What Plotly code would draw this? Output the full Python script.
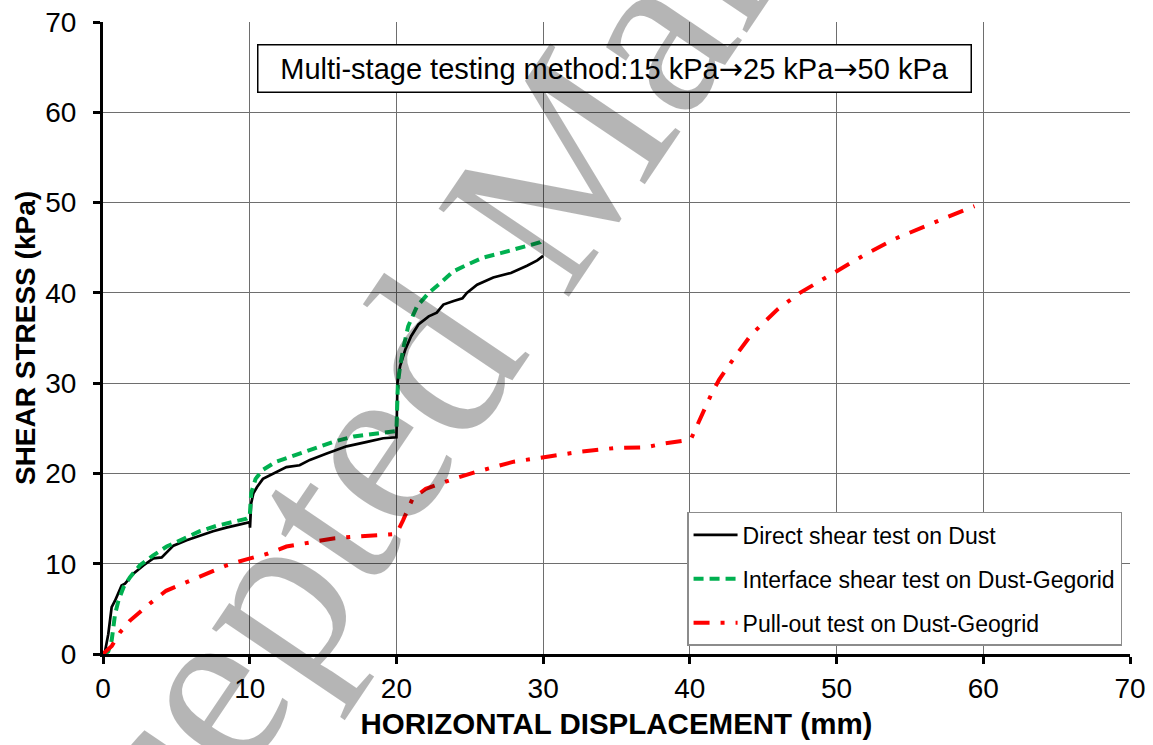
import plotly.graph_objects as go

# Direct shear test on dust (multi-stage: 15 -> 25 -> 50 kPa)
ds_x = [0.0, 0.14, 0.36, 0.48, 0.59, 0.82, 1.05, 1.27, 1.5, 2.07, 2.75, 3.43, 4.0, 4.34, 4.8,
        5.7, 6.6, 7.5, 8.4, 9.3, 9.9, 10.0, 10.02, 10.1, 10.25, 10.5, 10.9, 11.6, 12.5, 13.4,
        14.1, 15.25, 16.6, 18.0, 19.1, 20.0, 20.07, 20.25, 20.6, 21.0, 21.5, 22.2, 22.75, 23.0,
        23.2, 23.9, 24.5, 24.8, 25.5, 26.6, 27.8, 28.9, 29.6, 30.0]
ds_y = [0.0, 0.3, 2.2, 3.8, 5.2, 5.9, 6.8, 7.6, 7.8, 8.9, 9.8, 10.6, 10.7, 11.3, 12.0,
        12.6, 13.1, 13.6, 14.0, 14.3, 14.5, 14.6, 14.0, 16.7, 17.8, 18.5, 19.4, 20.0, 20.7, 20.9,
        21.5, 22.2, 23.0, 23.5, 23.9, 24.0, 30.0, 31.9, 33.7, 35.2, 36.5, 37.4, 37.8, 38.3,
        38.7, 39.1, 39.4, 40.0, 40.9, 41.7, 42.2, 43.0, 43.6, 44.1]

# Interface shear test on dust-geogrid
is_x = [0.0, 0.14, 0.36, 0.59, 0.82, 1.05, 1.4, 1.84, 2.5, 3.4, 4.34, 5.5, 6.6, 7.75, 8.9,
        9.8, 10.0, 10.1, 10.4, 10.9, 11.8, 13.0, 14.3, 15.7, 17.1, 18.4, 19.9, 20.0, 20.1,
        20.25, 20.5, 20.8, 21.4, 22.2, 23.0, 23.9, 24.8, 25.9, 27.1, 28.4, 29.8, 30.0]
is_y = [0.0, 0.0, 0.3, 1.5, 4.4, 5.9, 7.4, 8.5, 9.8, 10.9, 11.9, 12.8, 13.6, 14.2, 14.6,
        15.0, 15.2, 17.8, 19.4, 20.4, 21.3, 22.0, 22.8, 23.5, 24.1, 24.4, 24.7, 24.7, 30.0,
        31.9, 34.1, 36.3, 38.5, 40.0, 41.1, 42.4, 43.1, 43.9, 44.4, 45.0, 45.6, 45.9]

# Pull-out test on dust-geogrid
po_x = [0.0, 0.6, 1.16, 1.84, 3.2, 4.3, 5.9, 7.3, 8.4, 9.6, 11.2, 12.5, 14.1, 15.7, 17.1,
        18.4, 20.0, 20.45, 21.1, 22.0, 23.9, 25.5, 28.0, 30.5, 32.5, 34.8, 37.0, 38.2, 39.9,
        40.1, 40.7, 41.5, 42.0, 43.1, 44.2, 45.0, 46.0, 47.5, 50.0, 52.0, 54.0, 56.0, 58.0, 59.4]
po_y = [0.0, 0.9, 2.4, 3.7, 5.6, 7.0, 8.1, 9.1, 9.8, 10.4, 11.1, 11.9, 12.4, 12.8, 13.0,
        13.1, 13.3, 14.8, 17.2, 18.3, 19.4, 20.2, 21.3, 21.9, 22.4, 22.8, 22.9, 23.3, 23.7,
        23.9, 26.1, 28.9, 30.4, 33.0, 35.4, 36.6, 38.2, 40.0, 42.4, 44.3, 46.0, 47.4, 48.7, 49.6]

series_names = ["Direct shear test on Dust",
                "Interface shear test on Dust-Gegorid",
                "Pull-out test on Dust-Geogrid"]

axis_ticks = [0, 10, 20, 30, 40, 50, 60, 70]

FONT = "Liberation Sans, Arial, sans-serif"
ARROW = '<span style="font-family:DejaVu Sans">\u2192</span>'

fig = go.Figure()
fig.add_trace(go.Scatter(x=ds_x, y=ds_y, mode="lines", name=series_names[0],
                         legendgroup="a",
                         line=dict(color="#000000", width=2.7)))
fig.add_trace(go.Scatter(x=is_x, y=is_y, mode="lines", name=series_names[1],
                         legendgroup="b",
                         line=dict(color="#00B050", width=4, dash="10px,6px")))
fig.add_trace(go.Scatter(x=po_x, y=po_y, mode="lines", name=series_names[2],
                         legendgroup="c",
                         line=dict(color="#FF0000", width=4, dash="16px,11px,4px,11px")))

axis_common = dict(
    range=[0, 70], tickvals=axis_ticks, ticktext=[str(v) for v in axis_ticks],
    showgrid=True, gridcolor="#6e6e6e", gridwidth=1,
    zeroline=False, showline=True, linecolor="#000000", linewidth=3,
    ticks="outside", ticklen=7, tickwidth=3, tickcolor="#000000",
    tickfont=dict(family=FONT, size=28, color="#000000"),
)

fig.update_xaxes(**axis_common,
                 title=dict(text="<b>HORIZONTAL DISPLACEMENT (mm)</b>",
                            font=dict(family=FONT, size=29.5, color="#000000"),
                            standoff=11))
fig.update_yaxes(**axis_common, ticklabelstandoff=11,
                 title=dict(text="<b>SHEAR STRESS (kPa)</b>",
                            font=dict(family=FONT, size=28, color="#000000"),
                            standoff=2))

title_text = ("Multi-stage testing method:15 kPa" + ARROW + "25 kPa" + ARROW + "50 kPa")

fig.update_layout(
    width=1153, height=745,
    margin=dict(l=103, r=23, t=22, b=91, autoexpand=False),
    paper_bgcolor="#ffffff", plot_bgcolor="#ffffff",
    showlegend=True,
    legend=dict(x=0.5687, y=0.2247, xanchor="left", yanchor="top",
                bgcolor="#ffffff", bordercolor="#8c8c8c", borderwidth=1.5,
                font=dict(family=FONT, size=23, color="#000000"),
                itemwidth=44,
                traceorder="grouped", tracegroupgap=11),
    annotations=[
        dict(text=title_text,
             xref="paper", yref="paper", x=0.4985, y=0.927,
             xanchor="center", yanchor="middle", showarrow=False,
             font=dict(family=FONT, size=29, color="#000000"),
             bgcolor="#ffffff", bordercolor="#000000", borderwidth=1.5,
             borderpad=0, width=712, height=46),
        dict(text="Accepted Manuscript",
             xref="paper", yref="paper", x=0.4187, y=0.7104,
             xanchor="center", yanchor="middle", showarrow=False,
             textangle=-56,
             font=dict(family="Liberation Serif, Times New Roman, serif", size=240,
                       color="rgba(0,0,0,0.29)")),
    ],
)

fig.write_html("out.html")
